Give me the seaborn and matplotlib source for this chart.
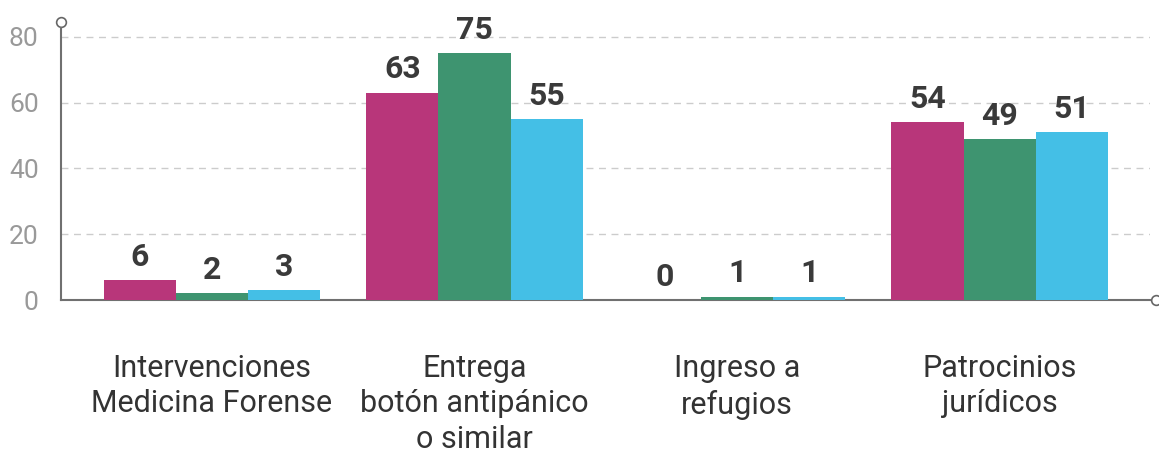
import numpy as np
import pandas as pd
import matplotlib
matplotlib.use("Agg")
import matplotlib.pyplot as plt
import seaborn as sns

# Data
categories = [
    "Intervenciones\nMedicina Forense",
    "Entrega\nbotón antipánico\no similar",
    "Ingreso a\nrefugios",
    "Patrocinios\njurídicos",
]
series_names = ["Serie 1", "Serie 2", "Serie 3"]
serie_1 = [6, 63, 0, 54]
serie_2 = [2, 75, 1, 49]
serie_3 = [3, 55, 1, 51]
y_ticks = [0, 20, 40, 60, 80]

colors = ["#B8367A", "#3E9470", "#44BFE6"]

df = pd.DataFrame({
    "categoria": categories * 3,
    "serie": np.repeat(series_names, len(categories)),
    "valor": serie_1 + serie_2 + serie_3,
})

sns.set_theme(style="white")
plt.rcParams["font.family"] = ["Roboto", "DejaVu Sans"]

fig = plt.figure(figsize=(11.59, 4.53), dpi=100)
ax = fig.add_axes([0.0526, 0.3377, 0.9394, 0.6005])

sns.barplot(data=df, x="categoria", y="valor", hue="serie", order=categories,
            hue_order=series_names, palette=colors, width=0.825, gap=0,
            linewidth=0, saturation=1, legend=False, ax=ax, zorder=3)

for cont in ax.containers:
    ax.bar_label(cont, fmt="%g", padding=6, fontsize=23, fontweight="bold",
                 color="#3a3a3a")

ax.set_xlim(-0.575, 3.571)
ax.set_ylim(0, 82.7)
ax.set_yticks(y_ticks)
ax.set_yticklabels([str(t) for t in y_ticks], fontsize=19, color="#999999")
ax.set_xlabel("")
ax.set_ylabel("")

# dashed gridlines (not at zero)
for t in y_ticks[1:]:
    ax.axhline(t, color="#cccccc", lw=1, ls=(0, (5, 4)), zorder=0)

ax.tick_params(axis="y", length=0, pad=16)
ax.tick_params(axis="x", length=0, pad=39, labelsize=22, labelcolor="#333333")
for lab in ax.get_xticklabels():
    lab.set_linespacing(1.27)

for s in ["top", "right"]:
    ax.spines[s].set_visible(False)
for s in ["left", "bottom"]:
    ax.spines[s].set_color("#707070")
    ax.spines[s].set_linewidth(1.5)

# open circles at the ends of the axes
ax.plot([0], [1.022], transform=ax.transAxes, marker="o", ms=7, mfc="white",
        mec="#666666", mew=1.2, clip_on=False)
ax.plot([1.006], [0], transform=ax.transAxes, marker="o", ms=7, mfc="white",
        mec="#666666", mew=1.2, clip_on=False)

fig.savefig("out.png", dpi=100)
